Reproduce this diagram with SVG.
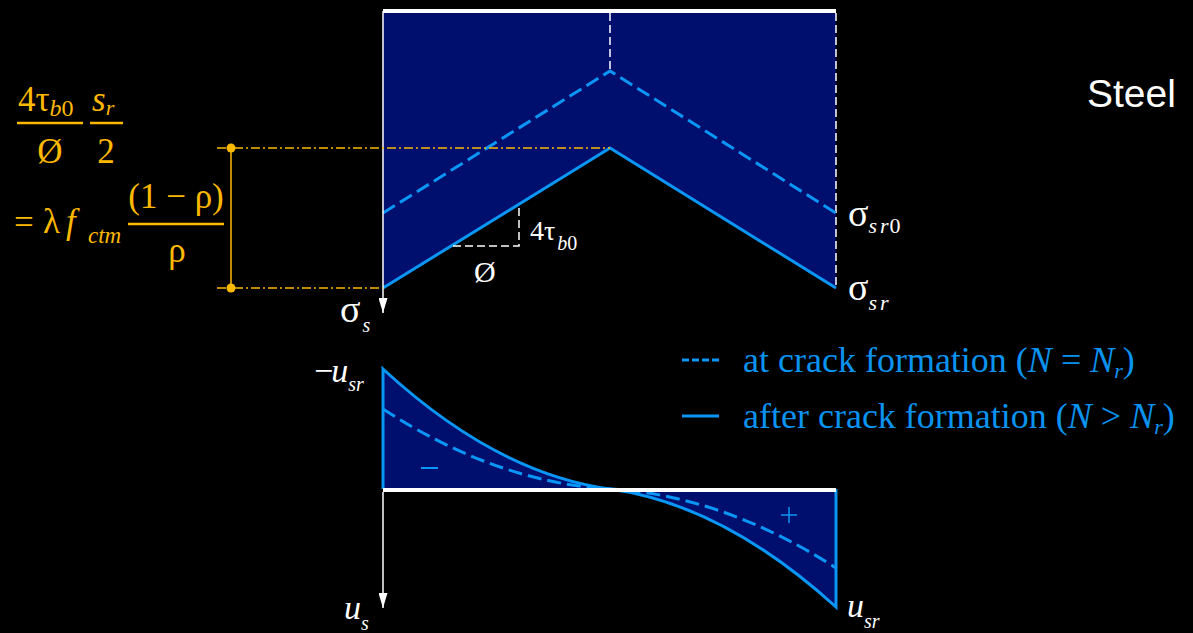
<svg xmlns="http://www.w3.org/2000/svg" width="1193" height="633" viewBox="0 0 1193 633">
<defs>
<style>
.serif{font-family:"Liberation Serif","Times New Roman",serif;}
.it{font-style:italic;}
.w{fill:#ffffff;}
.o{fill:#fcb900;}
.b{fill:#0a93f0;}
.navy{fill:#000f6e;stroke:none;}
.bl{fill:none;stroke:#0a96f5;stroke-width:3;}
.bld{fill:none;stroke:#0a96f5;stroke-width:3;stroke-dasharray:14 6;}
.wl{fill:none;stroke:#ffffff;stroke-width:1.5;}
.wd{fill:none;stroke:#ffffff;stroke-width:1.5;stroke-dasharray:8 4;}
.od{fill:none;stroke:#fcb900;stroke-width:1.5;stroke-dasharray:9 3 2 3;}
</style>
<marker id="arr" markerUnits="userSpaceOnUse" markerWidth="16" markerHeight="9" refX="15" refY="4.5" orient="auto" viewBox="0 0 16 9">
<path d="M0,0 L15,4.5 L0,9 Z" fill="#ffffff"/>
</marker>
</defs>
<rect x="0" y="0" width="1193" height="633" fill="#000000"/>

<g id="steel-stress">
<polygon class="navy" points="383,13 836,13 836,288 610,148 383,288"/>
<line class="wd" x1="610" y1="13" x2="610" y2="70"/>
<line class="wd" x1="836" y1="13" x2="836" y2="288"/>
<polyline class="bld" points="383,213 610,71 836,213"/>
<polyline class="bl" points="383,288 610,148 836,288"/>
<polyline class="wd" points="453,246 519,246 519,204"/>
<line x1="383" y1="11" x2="836" y2="11" stroke="#ffffff" stroke-width="4"/>
</g>

<g id="slip">
<path class="navy" d="M383,489 L383,369 Q496.5,473.5 610,489 Z"/>
<path class="navy" d="M610,489 Q723,504.4 836,607 L836,489 Z"/>
<path class="bld" d="M383,409 Q496.5,482.6 610,489 Q723,495.4 836,568"/>
<path class="bl" d="M383,489 L383,369 Q496.5,473.5 610,489 Q723,504.4 836,607 L836,489"/>
<line x1="383" y1="490" x2="836" y2="490" stroke="#ffffff" stroke-width="4"/>
<line x1="421" y1="468" x2="438" y2="468" stroke="#0a96f5" stroke-width="2"/>
<line x1="781" y1="515" x2="797" y2="515" stroke="#0a96f5" stroke-width="1.5"/>
<line x1="789" y1="507" x2="789" y2="523" stroke="#0a96f5" stroke-width="1.5"/>
</g>

<g id="connectors">
<line class="wl" x1="383" y1="11" x2="383" y2="313" marker-end="url(#arr)"/>
<line class="wl" x1="383" y1="492" x2="383" y2="608" marker-end="url(#arr)"/>
<line class="od" x1="217" y1="148" x2="610" y2="148"/>
<line class="od" x1="217" y1="288" x2="383" y2="288"/>
<line x1="231" y1="148" x2="231" y2="288" stroke="#fcb900" stroke-width="1.5"/>
<circle cx="231" cy="148" r="4.5" fill="#fcb900"/>
<circle cx="231" cy="288" r="4.5" fill="#fcb900"/>
</g>

<g id="formula" class="serif o">
<text x="18" y="111" font-size="35">4τ<tspan font-size="24" dy="5" class="it">b</tspan><tspan font-size="24">0</tspan></text>
<line x1="17" y1="123" x2="83" y2="123" stroke="#fcb900" stroke-width="2.5"/>
<text x="50" y="163" font-size="35" text-anchor="middle">Ø</text>
<text x="92" y="111" font-size="35" class="it">s<tspan font-size="22" dy="4">r</tspan></text>
<line x1="90" y1="123" x2="123" y2="123" stroke="#fcb900" stroke-width="2.5"/>
<text x="106" y="163" font-size="35" text-anchor="middle">2</text>
<text x="14" y="234" font-size="35">=</text>
<text x="43" y="233" font-size="35">λ</text>
<text x="66" y="233" font-size="35" class="it">f</text>
<text x="88" y="243" font-size="23" class="it">ctm</text>
<line x1="128" y1="224" x2="224" y2="224" stroke="#fcb900" stroke-width="2.5"/>
<text x="176" y="208" font-size="35" text-anchor="middle">(1 − ρ)</text>
<text x="177" y="262" font-size="35" text-anchor="middle">ρ</text>
</g>

<g id="labels" class="serif w">
<text x="340" y="322" font-size="38">σ<tspan class="it" font-size="20" dx="2" dy="10">s</tspan></text>
<text x="848" y="226" font-size="38">σ<tspan class="it" font-size="22" dy="7">s</tspan><tspan class="it" font-size="22" dx="3">r</tspan><tspan font-size="22" dx="1">0</tspan></text>
<text x="848" y="300" font-size="38">σ<tspan class="it" font-size="22" dy="10">s</tspan><tspan class="it" font-size="22" dx="3">r</tspan></text>
<text x="530" y="240" font-size="28">4τ<tspan font-size="20" dy="10" dx="2" class="it">b</tspan><tspan font-size="20">0</tspan></text>
<text x="474" y="282" font-size="30">Ø</text>
<text x="314" y="382" font-size="34">−<tspan class="it" dx="-2">u</tspan><tspan class="it" font-size="20" dy="9">sr</tspan></text>
<text x="847" y="617" font-size="34" class="it">u<tspan font-size="20" dy="11">sr</tspan></text>
<text x="344" y="619" font-size="34" class="it">u<tspan font-size="20" dy="11">s</tspan></text>
</g>

<g id="legend" class="serif b">
<line x1="682" y1="360" x2="719" y2="360" stroke="#0a96f5" stroke-width="3" stroke-dasharray="7 3"/>
<text x="743" y="372" font-size="36">at crack formation (<tspan class="it">N</tspan> = <tspan class="it">N</tspan><tspan class="it" font-size="22" dy="6">r</tspan><tspan dy="-6">)</tspan></text>
<line x1="682" y1="416" x2="719" y2="416" stroke="#0a96f5" stroke-width="3"/>
<text x="743" y="428" font-size="36">after crack formation (<tspan class="it">N</tspan> &gt; <tspan class="it">N</tspan><tspan class="it" font-size="22" dy="6">r</tspan><tspan dy="-6">)</tspan></text>
</g>

<g id="title">
<text x="1087" y="107" font-family="Liberation Sans, Arial, sans-serif" font-size="39" fill="#ffffff">Steel</text>
</g>
</svg>
